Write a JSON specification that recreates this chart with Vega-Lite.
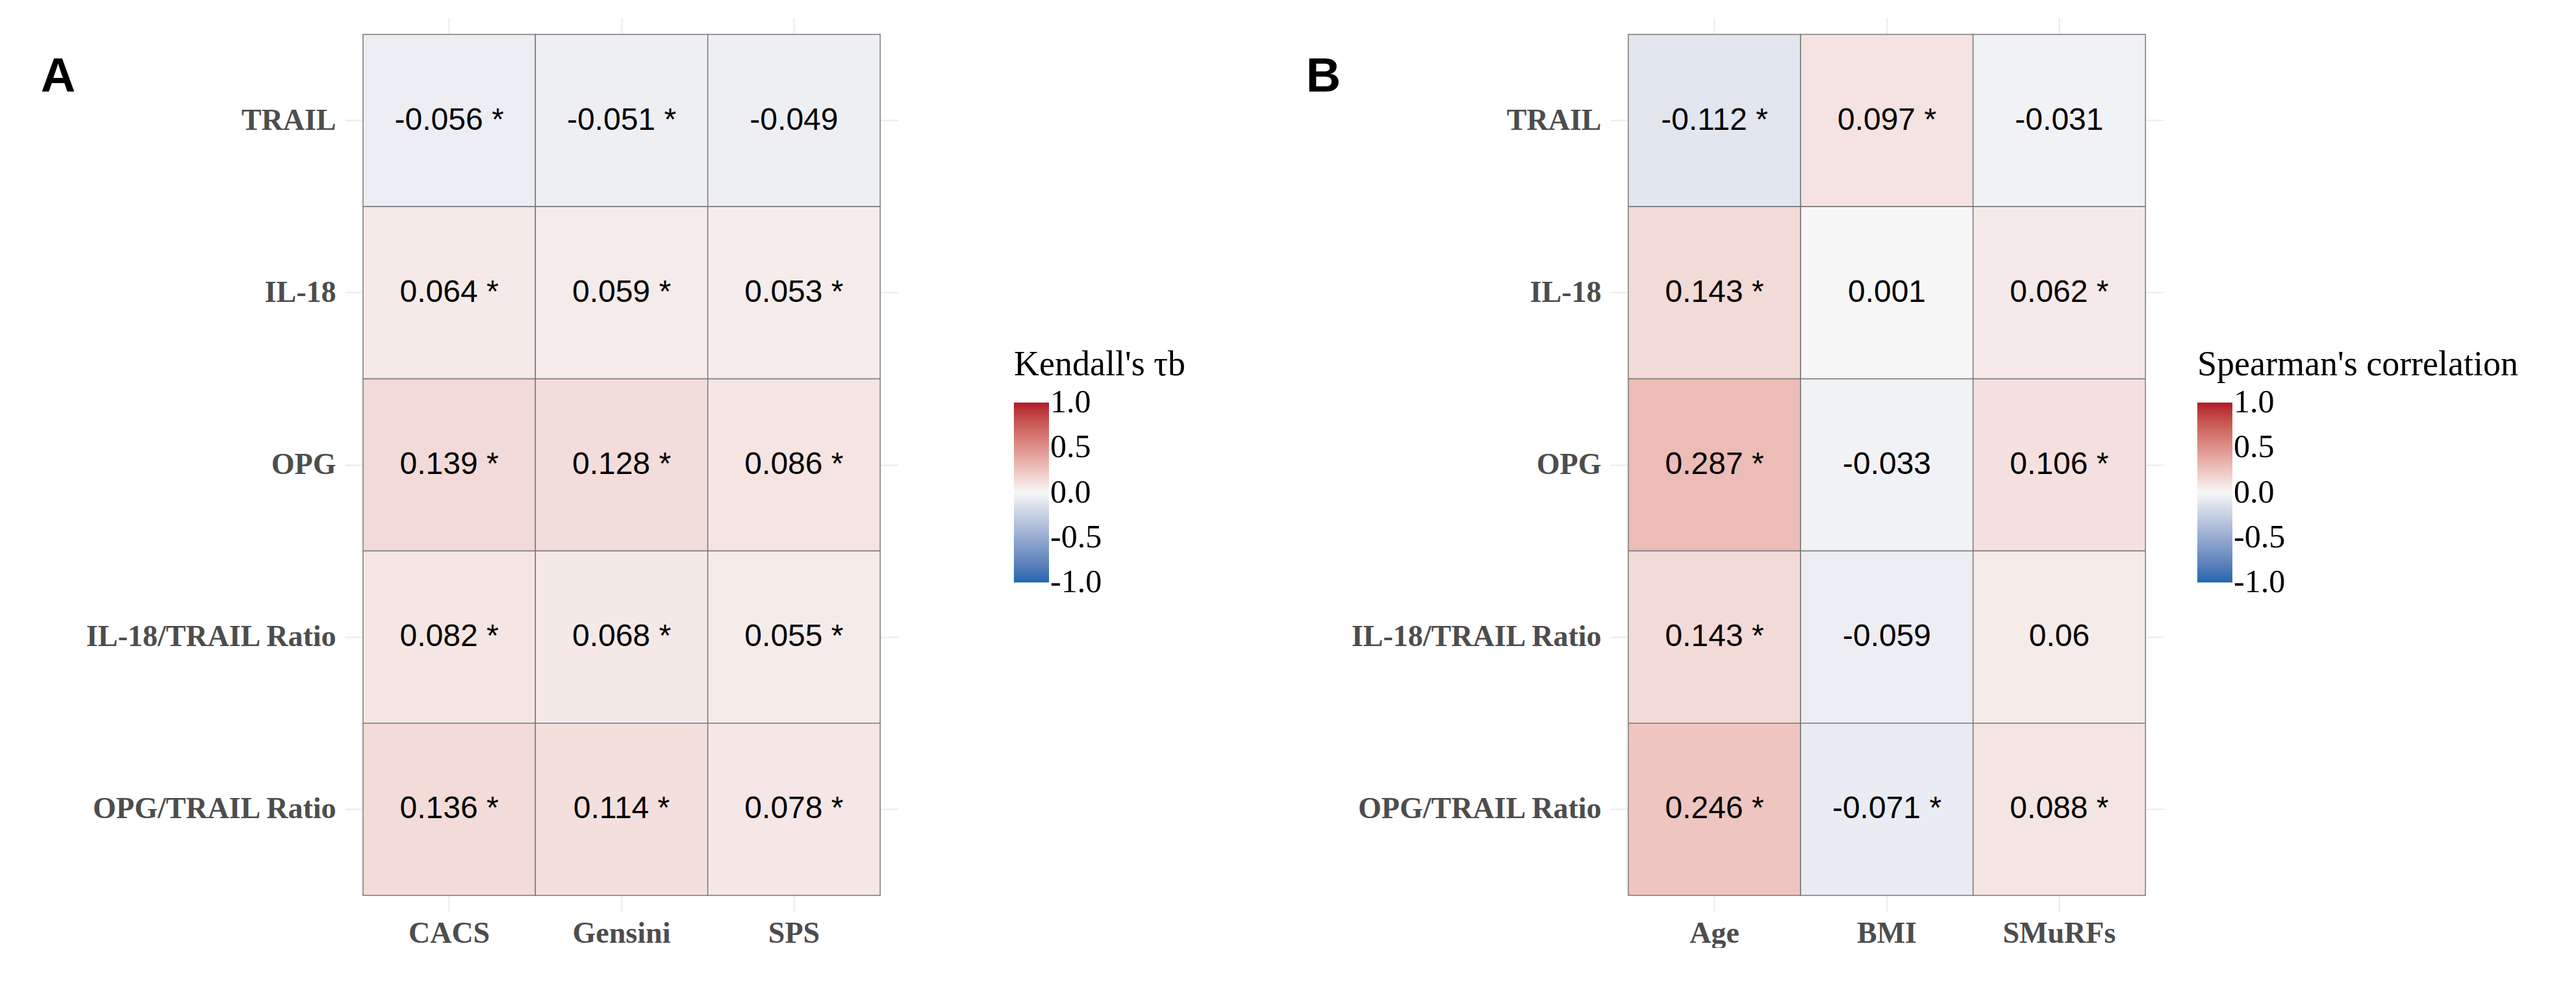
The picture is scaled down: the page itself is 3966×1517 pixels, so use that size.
{
  "$schema": "https://vega.github.io/schema/vega-lite/v6.json",
  "background": "white",
  "padding": {"left": 62, "top": 27, "right": 0, "bottom": 0},
  "spacing": 185,
  "resolve": {"scale": {"color": "independent"}},
  "config": {
    "view": {"stroke": null},
    "axis": {
      "domain": false, "ticks": false, "grid": true, "gridColor": "#EBEBEB", "gridWidth": 2,
      "bandPosition": 0.5, "title": null, "labelLimit": 0, "zindex": 0,
      "labelFont": "Liberation Serif", "labelFontWeight": "bold", "labelFontSize": 46, "labelColor": "#4D4D4D"
    },
    "axisY": {"labelPadding": 14},
    "axisX": {"labelPadding": 10, "labelAngle": 0},
    "legend": {
      "gradientLength": 277, "gradientThickness": 54, "gradientStrokeWidth": 0,
      "titleFont": "Liberation Serif", "titleFontSize": 54, "titleFontWeight": "normal", "titleColor": "black", "titleLimit": 0,
      "labelFont": "Liberation Serif", "labelFontSize": 50, "labelColor": "black", "labelOffset": 20,
      "labelOverlap": false, "labelBaseline": "middle", "titlePadding": 31, "padding": 0
    },
    "title": {"font": "Liberation Sans", "fontWeight": "bold", "fontSize": 74, "color": "black", "anchor": "start", "frame": "bounds"}
  },
  "hconcat": [
    {
      "width": 852, "height": 1378,
      "title": {"text": "A", "dx": -67, "dy": 130, "offset": 0},
      "data": {"values": [
        {"marker": "TRAIL", "score": "CACS", "r": -0.056, "label": "-0.056 *"},
        {"marker": "TRAIL", "score": "Gensini", "r": -0.051, "label": "-0.051 *"},
        {"marker": "TRAIL", "score": "SPS", "r": -0.049, "label": "-0.049"},
        {"marker": "IL-18", "score": "CACS", "r": 0.064, "label": "0.064 *"},
        {"marker": "IL-18", "score": "Gensini", "r": 0.059, "label": "0.059 *"},
        {"marker": "IL-18", "score": "SPS", "r": 0.053, "label": "0.053 *"},
        {"marker": "OPG", "score": "CACS", "r": 0.139, "label": "0.139 *"},
        {"marker": "OPG", "score": "Gensini", "r": 0.128, "label": "0.128 *"},
        {"marker": "OPG", "score": "SPS", "r": 0.086, "label": "0.086 *"},
        {"marker": "IL-18/TRAIL Ratio", "score": "CACS", "r": 0.082, "label": "0.082 *"},
        {"marker": "IL-18/TRAIL Ratio", "score": "Gensini", "r": 0.068, "label": "0.068 *"},
        {"marker": "IL-18/TRAIL Ratio", "score": "SPS", "r": 0.055, "label": "0.055 *"},
        {"marker": "OPG/TRAIL Ratio", "score": "CACS", "r": 0.136, "label": "0.136 *"},
        {"marker": "OPG/TRAIL Ratio", "score": "Gensini", "r": 0.114, "label": "0.114 *"},
        {"marker": "OPG/TRAIL Ratio", "score": "SPS", "r": 0.078, "label": "0.078 *"}
      ]},
      "encoding": {
        "x": {"field": "score", "type": "nominal", "sort": ["CACS", "Gensini", "SPS"], "scale": {"paddingInner": 0, "paddingOuter": 0.105}, "axis": {"zindex": 0}},
        "y": {"field": "marker", "type": "nominal", "sort": ["TRAIL", "IL-18", "OPG", "IL-18/TRAIL Ratio", "OPG/TRAIL Ratio"], "scale": {"paddingInner": 0, "paddingOuter": 0.098}, "axis": {"zindex": 0}}
      },
      "layer": [
        {
          "mark": {"type": "rect", "stroke": "#7A7A7A", "strokeWidth": 1.5},
          "encoding": {
            "color": {
              "field": "r", "type": "quantitative",
              "scale": {"domain": [-1, 0, 1], "range": ["#2166AC", "#F7F7F7", "#B2182B"], "interpolate": "lab"},
              "legend": {"title": "Kendall's τb", "orient": "none", "legendX": 1030, "legendY": 508, "values": [-1, -0.5, 0, 0.5, 1], "labelExpr": "replace(format(datum.value, '.1f'), '−', '-')",
                "encode": {"labels": {"update": {"baseline": {"value": "middle"}}}}}
            }
          }
        },
        {
          "mark": {"type": "text", "font": "Liberation Sans", "fontSize": 48, "color": "black"},
          "encoding": {"text": {"field": "label", "type": "nominal"}}
        }
      ]
    },
    {
      "width": 852, "height": 1378,
      "title": {"text": "B", "dx": -67, "dy": 130, "offset": 0},
      "data": {"values": [
        {"marker": "TRAIL", "var": "Age", "r": -0.112, "label": "-0.112 *"},
        {"marker": "TRAIL", "var": "BMI", "r": 0.097, "label": "0.097 *"},
        {"marker": "TRAIL", "var": "SMuRFs", "r": -0.031, "label": "-0.031"},
        {"marker": "IL-18", "var": "Age", "r": 0.143, "label": "0.143 *"},
        {"marker": "IL-18", "var": "BMI", "r": 0.001, "label": "0.001"},
        {"marker": "IL-18", "var": "SMuRFs", "r": 0.062, "label": "0.062 *"},
        {"marker": "OPG", "var": "Age", "r": 0.287, "label": "0.287 *"},
        {"marker": "OPG", "var": "BMI", "r": -0.033, "label": "-0.033"},
        {"marker": "OPG", "var": "SMuRFs", "r": 0.106, "label": "0.106 *"},
        {"marker": "IL-18/TRAIL Ratio", "var": "Age", "r": 0.143, "label": "0.143 *"},
        {"marker": "IL-18/TRAIL Ratio", "var": "BMI", "r": -0.059, "label": "-0.059"},
        {"marker": "IL-18/TRAIL Ratio", "var": "SMuRFs", "r": 0.06, "label": "0.06"},
        {"marker": "OPG/TRAIL Ratio", "var": "Age", "r": 0.246, "label": "0.246 *"},
        {"marker": "OPG/TRAIL Ratio", "var": "BMI", "r": -0.071, "label": "-0.071 *"},
        {"marker": "OPG/TRAIL Ratio", "var": "SMuRFs", "r": 0.088, "label": "0.088 *"}
      ]},
      "encoding": {
        "x": {"field": "var", "type": "nominal", "sort": ["Age", "BMI", "SMuRFs"], "scale": {"paddingInner": 0, "paddingOuter": 0.105}, "axis": {"zindex": 0}},
        "y": {"field": "marker", "type": "nominal", "sort": ["TRAIL", "IL-18", "OPG", "IL-18/TRAIL Ratio", "OPG/TRAIL Ratio"], "scale": {"paddingInner": 0, "paddingOuter": 0.098}, "axis": {"zindex": 0}}
      },
      "layer": [
        {
          "mark": {"type": "rect", "stroke": "#7A7A7A", "strokeWidth": 1.5},
          "encoding": {
            "color": {
              "field": "r", "type": "quantitative",
              "scale": {"domain": [-1, 0, 1], "range": ["#2166AC", "#F7F7F7", "#B2182B"], "interpolate": "lab"},
              "legend": {"title": "Spearman's correlation", "orient": "none", "legendX": 904, "legendY": 508, "values": [-1, -0.5, 0, 0.5, 1], "labelExpr": "replace(format(datum.value, '.1f'), '−', '-')",
                "encode": {"labels": {"update": {"baseline": {"value": "middle"}}}}}
            }
          }
        },
        {
          "mark": {"type": "text", "font": "Liberation Sans", "fontSize": 48, "color": "black"},
          "encoding": {"text": {"field": "label", "type": "nominal"}}
        }
      ]
    }
  ]
}
